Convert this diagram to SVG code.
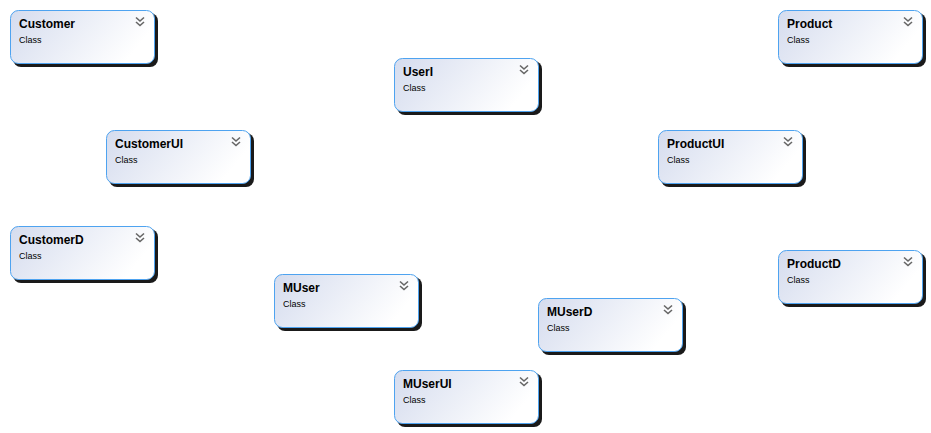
<svg xmlns="http://www.w3.org/2000/svg" width="931" height="433" viewBox="0 0 931 433">
<defs>
<linearGradient id="g" x1="0" y1="0" x2="1" y2="0.3">
<stop offset="0" stop-color="#d5dcee"/>
<stop offset="1" stop-color="#ffffff"/>
</linearGradient>
<g id="box">
<rect x="3" y="3" width="145" height="54" rx="8" fill="#1a1a1a"/>
<rect x="0.5" y="0.5" width="144" height="53" rx="8" fill="url(#g)" stroke="#4ea3f0" stroke-width="1"/>
<path d="M126 7.5 L130 11 L134 7.5 M126 12 L130 15.5 L134 12" fill="none" stroke="#666" stroke-width="1.6"/>
</g>
</defs>
<style>
.t{font-family:"Liberation Sans",Arial,sans-serif;font-weight:bold;font-size:12px;fill:#000}
.s{font-family:"Liberation Sans",Arial,sans-serif;font-size:9px;fill:#000}
</style>
<rect width="931" height="433" fill="#fff"/>
<g id="connectors"/>
<g id="Customer" transform="translate(10,10)"><use href="#box"/><text class="t" x="9" y="18">Customer</text><text class="s" x="9" y="33">Class</text></g>
<g id="Product" transform="translate(778,10)"><use href="#box"/><text class="t" x="9" y="18">Product</text><text class="s" x="9" y="33">Class</text></g>
<g id="UserI" transform="translate(394,58)"><use href="#box"/><text class="t" x="9" y="18">UserI</text><text class="s" x="9" y="33">Class</text></g>
<g id="CustomerUI" transform="translate(106,130)"><use href="#box"/><text class="t" x="9" y="18">CustomerUI</text><text class="s" x="9" y="33">Class</text></g>
<g id="ProductUI" transform="translate(658,130)"><use href="#box"/><text class="t" x="9" y="18">ProductUI</text><text class="s" x="9" y="33">Class</text></g>
<g id="CustomerD" transform="translate(10,226)"><use href="#box"/><text class="t" x="9" y="18">CustomerD</text><text class="s" x="9" y="33">Class</text></g>
<g id="ProductD" transform="translate(778,250)"><use href="#box"/><text class="t" x="9" y="18">ProductD</text><text class="s" x="9" y="33">Class</text></g>
<g id="MUser" transform="translate(274,274)"><use href="#box"/><text class="t" x="9" y="18">MUser</text><text class="s" x="9" y="33">Class</text></g>
<g id="MUserD" transform="translate(538,298)"><use href="#box"/><text class="t" x="9" y="18">MUserD</text><text class="s" x="9" y="33">Class</text></g>
<g id="MUserUI" transform="translate(394,370)"><use href="#box"/><text class="t" x="9" y="18">MUserUI</text><text class="s" x="9" y="33">Class</text></g>
</svg>
